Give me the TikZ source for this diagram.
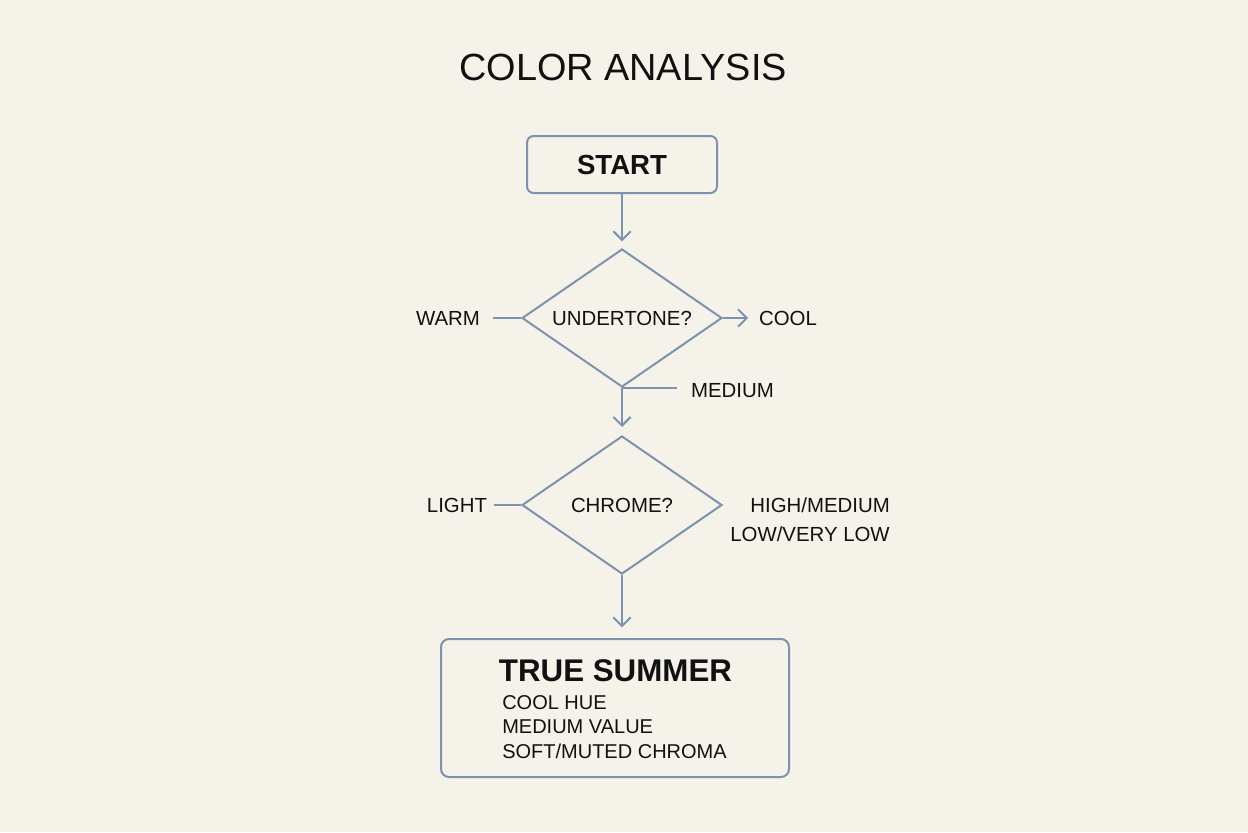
\documentclass[tikz,border=0pt]{standalone}
\usepackage{fontspec}
\setmainfont{Liberation Sans}
\usetikzlibrary{shapes.geometric,arrows.meta}
\definecolor{bg}{HTML}{F5F2EA}
\definecolor{ln}{HTML}{7C92AE}
\definecolor{ink}{HTML}{111111}
\begin{document}
\begin{tikzpicture}[x=0.75pt,y=-0.75pt,
  line/.style={draw=ln,line width=1.5pt},
  arr/.style={line,-{Straight Barb[length=6.5pt,width=13pt]}},
  lbl/.style={text=ink,font=\fontsize{15.3pt}{18pt}\selectfont,inner sep=0pt,text depth=0pt},
  box/.style={line,rounded corners=5pt,inner sep=0pt},
  dec/.style={line,diamond,aspect=1.45,inner sep=0pt,minimum width=150pt,minimum height=103.5pt}
]
\fill[bg] (0,0) rectangle (1248,832);
\useasboundingbox (0,0) rectangle (1248,832);

\node[text=ink,font=\fontsize{28.4pt}{32pt}\selectfont,inner sep=0pt,text depth=0pt] (title) at (623,67) {COLOR ANALYSIS};

\node[box,minimum width=142.5pt,minimum height=42.75pt,text=ink,font=\bfseries\fontsize{20.7pt}{24pt}\selectfont] (start) at (622,164.5) {START};

\node[dec,lbl] (d1) at (622,318) {UNDERTONE?};
\node[dec,lbl] (d2) at (622,505) {CHROME?};

\node[lbl] (warm) at (448,318) {WARM};
\node[lbl] (cool) at (788,318) {COOL};
\node[lbl] (medium) at (732.5,390) {MEDIUM};
\coordinate (medend) at (677,387);

\node[lbl] (light) at (457,505) {LIGHT};
\node[lbl,anchor=east] (high) at (890,505) {HIGH/MEDIUM};
\node[lbl,anchor=east] (low) at (890,534) {LOW/VERY LOW};

\node[line,rounded corners=6pt,minimum width=261pt,minimum height=103.5pt,inner sep=0pt] (res) at (615,708) {};
\node[text=ink,font=\bfseries\fontsize{23.5pt}{28pt}\selectfont,inner sep=0pt,text depth=0pt] (restitle) at (615.5,671) {TRUE SUMMER};
\node[lbl,anchor=west,font=\fontsize{15pt}{18pt}\selectfont] (r1) at (502,703) {COOL HUE};
\node[lbl,anchor=west,font=\fontsize{15pt}{18pt}\selectfont] (r2) at (502,727) {MEDIUM VALUE};
\node[lbl,anchor=west,font=\fontsize{15pt}{18pt}\selectfont] (r3) at (502,751) {SOFT/MUTED CHROMA};

\draw[arr,shorten >=5pt] (start) -- (d1);
\draw[line,shorten <=9.75pt] (warm.east) -- (warm.east -| d1.west);
\draw[arr,shorten >=8pt] (d1.east) -- (d1.east -| cool.west);
\draw[line] (d1.south) -- (d1.south -| medend);
\draw[arr,shorten >=6pt] (d1.south) -- (d2.north);
\draw[line,shorten <=5pt] (light.east) -- (light.east -| d2.west);
\draw[arr,shorten >=8pt] (d2.south) -- (d2.south |- res.north);
\end{tikzpicture}
\end{document}
